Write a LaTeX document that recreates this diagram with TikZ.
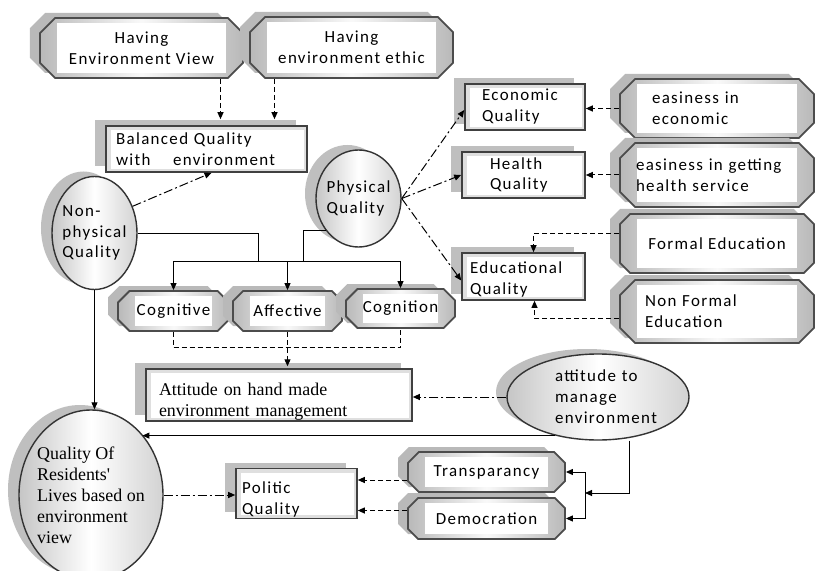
\documentclass[tikz,border=0pt]{standalone}
\usepackage{fontspec}
\setmainfont{Carlito}[LetterSpace=8]
\newfontfamily\timesfont{Liberation Serif}
\usetikzlibrary{shapes.geometric,shapes.misc,shadows,arrows.meta}

\tikzset{
  octa/.style={chamfered rectangle, chamfered rectangle xsep=12bp,
    draw=black!70, line width=1.8bp, inner sep=1bp,
    left color=gray!55, right color=gray!55, middle color=gray!5,
    path picture={\fill[white] ([shift={(17bp,-5bp)}]path picture bounding box.north west)
      rectangle ([shift={(-17bp,5bp)}]path picture bounding box.south east);},
    general shadow={shadow xshift=-10bp, shadow yshift=5bp, fill=gray!55},
    align=left},
  qbox/.style={rectangle, draw=black!75, line width=1.6bp, fill=gray!25, inner sep=1bp,
    path picture={\fill[white] ([shift={(5bp,-4bp)}]path picture bounding box.north west)
      rectangle ([shift={(-3bp,3bp)}]path picture bounding box.south east);},
    general shadow={shadow xshift=-11bp, shadow yshift=6bp, fill=gray!50},
    align=left},
  oval/.style={ellipse, draw=black!80, line width=1.4bp, inner sep=-20bp,
    left color=gray!45, right color=gray!35, middle color=white,
    general shadow={shadow xshift=-11bp, shadow yshift=5bp, fill=gray!50},
    align=left},
  serif/.style={font=\timesfont\fontsize{18}{21}\selectfont}
}

\begin{document}
\begin{tikzpicture}[x=1bp, y=-1bp, line width=1bp,
    >={Triangle[length=7bp,width=6bp]},
    font=\fontsize{17}{21}\selectfont,
    dashline/.style={dash pattern=on 5bp off 3bp},
    dotline/.style={dash pattern=on 9bp off 3bp on 2bp off 3bp}]
  \fill[white] (0,0) rectangle (818,571);
  \useasboundingbox (0,0) rectangle (818,571);

  % top
  \node[octa, align=center, minimum width=203bp, minimum height=60bp] (hview) at (141.5,48) {Having\\Environment View};
  \node[octa, align=center, minimum width=203bp, minimum height=61bp] (hethic) at (351.5,47.5) {Having\\environment ethic};
  \node[qbox, text width=181bp, minimum width=201bp, minimum height=46bp] (balanced) at (206.5,149) {Balanced Quality\\with \quad environment};

  % qualities
  \node[oval, minimum width=85bp, minimum height=113bp] (nonphys) at (94.5,233) {Non-\\physical\\Quality};
  \node[oval, minimum width=85bp, minimum height=97bp] (phys) at (358.5,198.5) {Physical\\Quality};
  \node[octa, minimum width=111bp, minimum height=40bp] (cognitive) at (173.5,311) {Cognitive};
  \node[octa, minimum width=109bp, minimum height=40bp] (affective) at (287.5,311) {Affective};
  \node[octa, minimum width=109bp, minimum height=39bp] (cognition) at (400.5,308.5) {Cognition};

  % right column
  \node[qbox, text width=86bp, minimum width=120bp, minimum height=46bp] (econ) at (525,107) {Economic\\Quality};
  \node[qbox, text width=67bp, minimum width=123bp, minimum height=46bp] (health) at (523.5,175) {Health\\Quality};
  \node[qbox, text width=107bp, text height=18bp, minimum width=123bp, minimum height=47bp] (edu) at (523.5,276.5) {Educational\\Quality};
  \node[octa, text width=130bp, minimum width=194bp, minimum height=59bp] (easecon) at (717,108.5) {easiness in\\economic};
  \node[octa, text width=162bp, minimum width=194bp, minimum height=64bp] (easheal) at (717,175) {easiness in getting\\health service};
  \node[octa, minimum width=194bp, minimum height=59bp] (formal) at (717,243.5) {Formal Education};
  \node[octa, text width=144bp, minimum width=194bp, minimum height=63bp] (nonformal) at (717,311.5) {Non Formal\\Education};

  % bottom
  \node[qbox, serif, text width=240bp, text height=25bp, minimum width=266bp, minimum height=46bp] (attitude) at (279,395) {Attitude on hand made\\environment management};
  \node[oval, text width=86bp, minimum width=182bp, minimum height=86bp] (attenv) at (598,397) {attitude to\\manage\\environment};
  \node[oval, serif, minimum width=144bp, minimum height=170bp] (qol) at (91,495) {Quality Of\\Residents'\\Lives based on\\environment\\view};
  \node[qbox, text width=109bp, text height=24bp, minimum width=121bp, minimum height=45bp] (politic) at (296.5,493.5) {Politic\\Quality};
  \node[octa, minimum width=157bp, minimum height=40bp] (transp) at (486.5,472) {Transparancy};
  \node[octa, minimum width=157bp, minimum height=41bp] (democ) at (486.5,518.5) {Democration};

  % connectors
  \draw[dashline, ->, shorten >=6bp] ([xshift=79bp]hview.south) coordinate (v1) -- (v1 |- balanced.north);
  \draw[dashline, ->, shorten >=6bp] ([xshift=-77bp]hethic.south) coordinate (e1) -- (e1 |- balanced.north);
  \draw[dotline, ->] (nonphys.35) -- ([xshift=5bp]balanced.south);

  \coordinate (busl) at (258,261);
  \coordinate (busr) at (303,261);
  \draw (nonphys.east) -| (busl);
  \draw (phys.-135) -| (busr);
  \draw (busl) -- (busr);
  \draw[->] (busl) -| (cognitive.north);
  \draw[->] (busl) -| (affective.north);
  \draw[->] (busr) -| (cognition.north);

  \draw[dashline] (cognitive.south) -- ++(0,16) -| (cognition.south);
  \draw[dashline, ->, shorten >=2bp] (affective.south) -- (affective.south |- attitude.north);

  \draw[dotline, ->] (phys.east) -- ([yshift=-3bp]econ.west);
  \draw[dotline, ->] (phys.east) -- (health.west);
  \draw[dotline, ->] (phys.east) -- ([yshift=-4bp]edu.west);

  \draw[dashline, ->] (easecon.west) -- (easecon.west -| econ.east);
  \draw[dashline, ->] (easheal.west) -- (easheal.west -| health.east);
  \draw[dashline, ->] ([yshift=10bp]formal.west) -| ([xshift=10bp]edu.north);
  \draw[dashline, ->] ([yshift=-7bp]nonformal.west) -| ([xshift=11bp]edu.south);

  \draw[dotline, ->] (attenv.west) -- (attenv.west -| attitude.east);
  \draw[->] (nonphys.south) -- (nonphys.south |- qol.north);
  \draw[->] (attenv.-138) -- (attenv.-138 -| qol.north east);

  \coordinate (rbus) at (585,493);
  \draw[->] ([xshift=31bp]attenv.south) |- (rbus);
  \draw[->] (rbus) |- (transp.east);
  \draw[->] (rbus) |- (democ.east);

  \draw[dotline, ->] (qol.east) -- (qol.east -| politic.west);
  \draw[dashline, ->] ([yshift=-8bp]transp.west) coordinate (t1) -- (t1 -| politic.east);
  \draw[dashline, ->] ([yshift=8bp]democ.west) coordinate (d1) -- (d1 -| politic.east);
\end{tikzpicture}
\end{document}
